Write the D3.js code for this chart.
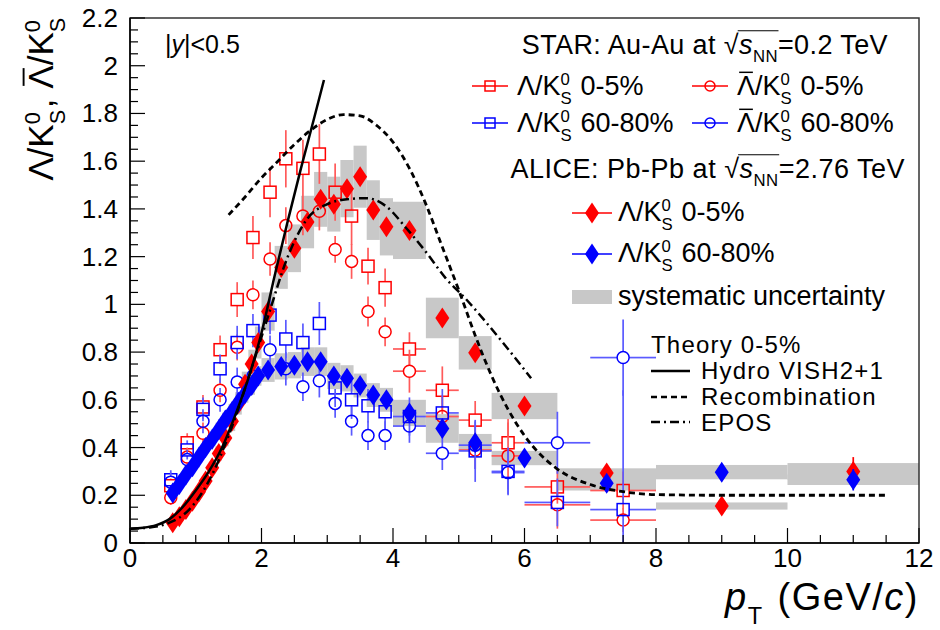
<!DOCTYPE html>
<html><head><meta charset="utf-8">
<script src="https://cdn.jsdelivr.net/npm/d3@7"></script>
<style>body{margin:0;background:#fff;} svg{display:block;} text{font-family:"Liberation Sans",Arial,Helvetica,sans-serif;fill:#000;white-space:pre;}</style>
</head><body><svg id="c" width="940" height="630" xml:space="preserve"></svg>
<script>
// ---------------- DATA ----------------
// ALICE Pb-Pb 2.76 TeV
const aliceX = [0.65,0.75,0.85,0.95,1.05,1.15,1.25,1.35,1.45,1.55,1.65,1.75,1.85,1.95,2.1,2.3,2.5,2.7,2.9,3.1,3.3,3.5,3.7,3.9,4.25,4.75,5.25,6.0,7.25,9.0,11.0];
const aliceHalfW = [0.05,0.05,0.05,0.05,0.05,0.05,0.05,0.05,0.05,0.05,0.05,0.05,0.05,0.05,0.1,0.1,0.1,0.1,0.1,0.1,0.1,0.1,0.1,0.1,0.25,0.25,0.25,0.5,0.75,1,1];
const alice0_5 = [0.085,0.11,0.14,0.175,0.215,0.26,0.315,0.375,0.44,0.51,0.585,0.665,0.75,0.84,0.97,1.155,1.235,1.345,1.44,1.42,1.485,1.535,1.395,1.325,1.31,0.943,0.797,0.574,0.293,0.155,0.30];
const alice0_5Syst = [0.008,0.009,0.011,0.014,0.017,0.021,0.025,0.03,0.035,0.041,0.047,0.053,0.06,0.067,0.08,0.09,0.1,0.11,0.115,0.115,0.12,0.13,0.125,0.12,0.12,0.085,0.07,0.055,0.02,0.015,0.035];
const alice0_5Stat = [0.002,0.002,0.002,0.002,0.002,0.003,0.003,0.003,0.003,0.004,0.004,0.004,0.005,0.005,0.006,0.007,0.008,0.009,0.01,0.011,0.012,0.013,0.014,0.015,0.012,0.015,0.018,0.02,0.025,0.02,0.06];
const alice60_80 = [0.21,0.245,0.285,0.32,0.36,0.40,0.435,0.475,0.515,0.55,0.59,0.625,0.66,0.70,0.725,0.74,0.745,0.76,0.76,0.70,0.69,0.66,0.62,0.60,0.545,0.48,0.42,0.356,0.25,0.297,0.265];
const alice60_80Syst = [0.015,0.017,0.019,0.021,0.023,0.025,0.027,0.029,0.031,0.033,0.035,0.037,0.039,0.041,0.05,0.055,0.055,0.06,0.06,0.055,0.055,0.05,0.05,0.05,0.055,0.06,0.037,0.03,0.03,0.03,0.022];
const alice60_80Stat = [0.004,0.004,0.004,0.005,0.005,0.005,0.006,0.006,0.006,0.007,0.007,0.008,0.008,0.009,0.01,0.01,0.011,0.012,0.013,0.014,0.015,0.016,0.017,0.018,0.02,0.022,0.025,0.03,0.03,0.025,0.045];

// STAR Au-Au 0.2 TeV
const starX = [0.62,0.87,1.11,1.37,1.63,1.87,2.13,2.37,2.63,2.88,3.12,3.37,3.62,3.88,4.25,4.75,5.25,5.75,6.5,7.5];
const starXErr = [0,0,0,0,0,0,0,0,0,0,0,0,0,0,0.25,0.25,0.25,0.25,0.5,0.5];
const starLam0_5 = [0.24,0.42,0.57,0.81,1.02,1.28,1.47,1.61,1.57,1.63,1.47,1.37,1.16,1.07,0.813,0.64,0.515,0.42,0.235,0.22];
const starLam0_5Err = [0.03,0.04,0.05,0.06,0.073,0.09,0.105,0.12,0.12,0.125,0.12,0.12,0.077,0.08,0.07,0.1,0.08,0.1,0.07,0.08];
const starALam0_5 = [0.19,0.36,0.46,0.64,0.82,1.04,1.19,1.33,1.37,1.39,1.23,1.18,0.97,0.885,0.72,0.53,0.39,0.365,0.16,0.096];
const starALam0_5Err = [0.03,0.04,0.045,0.05,0.055,0.06,0.07,0.077,0.08,0.08,0.056,0.073,0.063,0.06,0.09,0.09,0.08,0.14,0.1,0.05];
const starLam60_80 = [0.265,0.39,0.56,0.73,0.84,0.89,0.955,0.855,0.84,0.92,0.65,0.60,0.575,0.55,0.53,0.545,0.386,0.30,0.17,0.14];
const starLam60_80Err = [0.04,0.04,0.05,0.06,0.07,0.07,0.08,0.08,0.08,0.09,0.08,0.08,0.07,0.07,0.08,0.1,0.13,0.1,0.1,0.5];
const starALam60_80 = [0.255,0.35,0.51,0.60,0.675,0.70,0.81,0.73,0.655,0.68,0.585,0.51,0.45,0.45,0.49,0.376,0.41,0.295,0.42,0.777];
const starALam60_80Err = [0.04,0.04,0.05,0.05,0.06,0.06,0.06,0.07,0.06,0.07,0.06,0.06,0.06,0.06,0.07,0.07,0.1,0.09,0.13,0.16];

// Theory 0-5%
const hydroX = [0,0.2,0.4,0.6,0.8,1.0,1.2,1.4,1.6,1.8,2.0,2.2,2.4,2.6,2.8,2.95];
const hydroY = [0.06,0.064,0.075,0.1,0.15,0.22,0.3,0.4,0.535,0.69,0.88,1.12,1.35,1.57,1.78,1.94];
const recombX = [1.5,1.75,2.0,2.25,2.5,2.75,3.0,3.25,3.5,3.75,4.0,4.25,4.5,4.75,5.0,5.25,5.5,5.75,6.0,6.5,7.0,7.5,8.0,9.0,10.0,11.5];
const recombY = [1.375,1.45,1.53,1.6,1.67,1.73,1.775,1.795,1.79,1.75,1.68,1.57,1.42,1.24,1.06,0.87,0.7,0.56,0.45,0.31,0.245,0.215,0.203,0.2,0.2,0.2];
const eposX = [0,0.3,0.6,0.9,1.2,1.5,1.8,2.1,2.4,2.7,3.0,3.3,3.6,3.9,4.2,4.5,4.8,5.1,5.4,5.7,6.1];
const eposY = [0.06,0.065,0.085,0.14,0.26,0.45,0.69,0.95,1.2,1.36,1.42,1.44,1.445,1.41,1.32,1.22,1.11,1.025,0.93,0.83,0.69];

const yTicks = [0,0.2,0.4,0.6,0.8,1,1.2,1.4,1.6,1.8,2,2.2];
const xTicks = [0,2,4,6,8,10,12];

// ---------------- CHART ----------------
const svg = d3.select('#c');
const L=130, R=919, T=18, B=543;
const x = d3.scaleLinear().domain([0,12]).range([L,R]);
const y = d3.scaleLinear().domain([0,2.2]).range([B,T]);

const RED='#ff0000', REDL='#ff5a5a', BLUE='#0000ff', BLUEL='#5a5aff', GRAY='#c8c8c8';

svg.append('clipPath').attr('id','clip').append('rect').attr('x',L).attr('y',T).attr('width',R-L).attr('height',B-T);
const plot = svg.append('g').attr('clip-path','url(#clip)');

// rich text helper
function rich(parent, px, py, parts, fs, anchor, ls){
  const g = parent.append('g');
  let cx = 0, ovS=null, ovE=null;
  parts.forEach(p=>{
    if(p.gap){ cx += p.gap; return; }
    if(p.stack){
      const a = g.append('text').attr('x',cx).attr('y',-0.38*fs).attr('font-size',fs*0.62).text(p.stack[0]);
      const b = g.append('text').attr('x',cx).attr('y',0.34*fs).attr('font-size',fs*0.62).text(p.stack[1]);
      cx += Math.max(a.node().getComputedTextLength(), b.node().getComputedTextLength()) + fs*0.05;
    } else {
      const small = p.sub||p.sup;
      const size = small ? fs*0.62 : fs;
      const dy = p.sub ? (p.low||0.3)*fs : (p.sup ? -0.38*fs : 0);
      const t = g.append('text').attr('x',cx).attr('y',dy).attr('font-size',size)
        .attr('letter-spacing', ls ? ls+'px' : null)
        .attr('font-style',p.it?'italic':null).text(p.t);
      const w = t.node().getComputedTextLength();
      if(p.bar){
        g.append('line').attr('x1',cx+w*0.12).attr('x2',cx+w*0.88).attr('y1',-0.84*fs).attr('y2',-0.84*fs)
          .attr('stroke','#000').attr('stroke-width',fs*0.055);
      }
      if(p.over){ if(ovS===null) ovS=cx; ovE=cx+w; }
      cx += w;
    }
  });
  if(ovS!==null){
    g.append('line').attr('x1',ovS-fs*0.05).attr('x2',ovE+fs*0.02).attr('y1',-0.86*fs).attr('y2',-0.86*fs)
      .attr('stroke','#000').attr('stroke-width',fs*0.04);
  }
  const dx = anchor==='end' ? -cx : (anchor==='middle' ? -cx/2 : 0);
  g.attr('transform',`translate(${px+dx},${py})`);
  return g;
}

// systematic boxes
function sysBoxes(xs, hw, ys, ss){
  plot.append('g').selectAll('rect').data(xs.map((d,i)=>({x:d,w:hw[i],v:ys[i],s:ss[i]}))).join('rect')
    .attr('x',d=>x(d.x-d.w)).attr('width',d=>x(d.x+d.w)-x(d.x-d.w))
    .attr('y',d=>y(d.v+d.s)).attr('height',d=>y(d.v-d.s)-y(d.v+d.s))
    .attr('fill',GRAY);
}
sysBoxes(aliceX, aliceHalfW, alice60_80, alice60_80Syst);
sysBoxes(aliceX, aliceHalfW, alice0_5, alice0_5Syst);

// STAR points with error bars
function starSeries(vals, errs, color, lcolor, shape){
  const g = plot.append('g');
  const ms = 6;
  vals.forEach((v,i)=>{
    const cx = x(starX[i]), cy = y(v);
    const top = y(v+errs[i]), bot = y(v-errs[i]);
    if(cy-ms>top) g.append('line').attr('x1',cx).attr('x2',cx).attr('y1',top).attr('y2',cy-ms).attr('stroke',lcolor).attr('stroke-width',1.7);
    if(bot>cy+ms) g.append('line').attr('x1',cx).attr('x2',cx).attr('y1',cy+ms).attr('y2',bot).attr('stroke',lcolor).attr('stroke-width',1.7);
    const xe = starXErr[i];
    if(xe>0){
      const xl = x(starX[i]-xe), xr = x(starX[i]+xe);
      g.append('line').attr('x1',xl).attr('x2',cx-ms).attr('y1',cy).attr('y2',cy).attr('stroke',lcolor).attr('stroke-width',1.7);
      g.append('line').attr('x1',cx+ms).attr('x2',xr).attr('y1',cy).attr('y2',cy).attr('stroke',lcolor).attr('stroke-width',1.7);
    }
    if(shape==='sq') g.append('rect').attr('x',cx-ms).attr('y',cy-ms).attr('width',2*ms).attr('height',2*ms)
      .attr('fill','none').attr('stroke',color).attr('stroke-width',1.5);
    else g.append('circle').attr('cx',cx).attr('cy',cy).attr('r',ms).attr('fill','none').attr('stroke',color).attr('stroke-width',1.5);
  });
}
starSeries(starLam0_5, starLam0_5Err, RED, REDL, 'sq');
starSeries(starALam0_5, starALam0_5Err, RED, REDL, 'ci');
starSeries(starLam60_80, starLam60_80Err, BLUE, BLUEL, 'sq');
starSeries(starALam60_80, starALam60_80Err, BLUE, BLUEL, 'ci');

// ALICE diamonds
const dia = (hw,hh)=>`M0,${-hh}L${hw},0L0,${hh}L${-hw},0Z`;
function aliceSeries(vals, stat, color){
  const g = plot.append('g');
  vals.forEach((v,i)=>{
    const cx = x(aliceX[i]), cy = y(v);
    const top=y(v+stat[i]), bot=y(v-stat[i]);
    if(cy-top>10) g.append('line').attr('x1',cx).attr('x2',cx).attr('y1',top).attr('y2',bot).attr('stroke',color).attr('stroke-width',1.7);
    g.append('path').attr('d',dia(7,10.5)).attr('transform',`translate(${cx},${cy})`).attr('fill',color);
  });
}
aliceSeries(alice0_5, alice0_5Stat, RED);
aliceSeries(alice60_80, alice60_80Stat, BLUE);

// theory curves
const line = d3.line().x(d=>x(d[0])).y(d=>y(d[1])).curve(d3.curveMonotoneX);
plot.append('path').datum(eposX.map((d,i)=>[d,eposY[i]])).attr('d',line)
  .attr('fill','none').attr('stroke','#000').attr('stroke-width',2.5).attr('stroke-dasharray','9,4,2,4');
plot.append('path').datum(recombX.map((d,i)=>[d,recombY[i]])).attr('d',line)
  .attr('fill','none').attr('stroke','#000').attr('stroke-width',2.8).attr('stroke-dasharray','6,4');
plot.append('path').datum(hydroX.map((d,i)=>[d,hydroY[i]])).attr('d',line)
  .attr('fill','none').attr('stroke','#000').attr('stroke-width',2.5);

// frame & axes
svg.append('rect').attr('x',L).attr('y',T).attr('width',R-L).attr('height',B-T)
  .attr('fill','none').attr('stroke','#333').attr('stroke-width',1.5);
const ax = svg.append('g');
d3.range(0,2.2001,0.05).forEach(v=>{
  const major = Math.abs(v/0.2-Math.round(v/0.2))<1e-6;
  ax.append('line').attr('x1',L).attr('x2',L+(major?15:8)).attr('y1',y(v)).attr('y2',y(v)).attr('stroke','#000').attr('stroke-width',1.2);
});
d3.range(0,12.001,0.5).forEach(v=>{
  const major = Math.abs(v/2-Math.round(v/2))<1e-6;
  ax.append('line').attr('y1',B).attr('y2',B-(major?15:8)).attr('x1',x(v)).attr('x2',x(v)).attr('stroke','#000').attr('stroke-width',1.2);
});
ax.append('line').attr('x1',L).attr('x2',L).attr('y1',T).attr('y2',B).attr('stroke','#000').attr('stroke-width',1.5);
ax.append('line').attr('x1',L).attr('x2',R).attr('y1',B).attr('y2',B).attr('stroke','#000').attr('stroke-width',1.5);
ax.selectAll('.yl').data(yTicks).join('text').attr('x',L-12).attr('y',d=>y(d)+9)
  .attr('text-anchor','end').attr('font-size',26).text(d=>d3.format('~g')(d));
ax.selectAll('.xl').data(xTicks).join('text').attr('x',d=>x(d)).attr('y',B+24)
  .attr('text-anchor','middle').attr('font-size',26).text(d=>d);

// axis titles
rich(svg, R, 610, [{t:'p',it:true},{t:'T',sub:true,low:0.36},{gap:14},{t:'(GeV/'},{t:'c',it:true},{t:')'}], 38, 'end', 1.5);
const yt = svg.append('g').attr('transform','translate(53,16) rotate(-90)');
rich(yt, 0, 0, [{t:'Λ/K'},{stack:['0','S']},{t:', '},{t:'Λ',bar:true},{t:'/K'},{stack:['0','S']}], 35, 'end');

// ---------------- LEGEND ----------------
const FS = 27;
const lg = svg.append('g');
rich(lg, 165, 53, [{t:'|'},{t:'y',it:true},{t:'|<0.5'}], 25);
rich(lg, 888, 54, [{t:'STAR: Au-Au at '},{t:'√'},{t:'s',it:true,over:true},{t:'NN',sub:true,over:true},{t:'=0.2 TeV'}], FS, 'end', 0.4);

function legMarker(cx, cy, color, shape){
  lg.append('line').attr('x1',cx-18).attr('x2',cx+18).attr('y1',cy).attr('y2',cy).attr('stroke',color).attr('stroke-width',1.5);
  if(shape==='sq') lg.append('rect').attr('x',cx-5).attr('y',cy-5).attr('width',10).attr('height',10).attr('fill','none').attr('stroke',color).attr('stroke-width',1.5);
  else lg.append('circle').attr('cx',cx).attr('cy',cy).attr('r',5).attr('fill','none').attr('stroke',color).attr('stroke-width',1.5);
}
legMarker(490, 86, RED, 'sq');
rich(lg, 517, 95, [{t:'Λ/K'},{stack:['0','S']},{t:' 0-5%'}], FS);
legMarker(710, 86, RED, 'ci');
rich(lg, 737, 95, [{t:'Λ',bar:true},{t:'/K'},{stack:['0','S']},{t:' 0-5%'}], FS);
legMarker(490, 123, BLUE, 'sq');
rich(lg, 517, 132, [{t:'Λ/K'},{stack:['0','S']},{t:' 60-80%'}], FS);
legMarker(710, 123, BLUE, 'ci');
rich(lg, 737, 132, [{t:'Λ',bar:true},{t:'/K'},{stack:['0','S']},{t:' 60-80%'}], FS);

rich(lg, 905, 178, [{t:'ALICE: Pb-Pb at '},{t:'√'},{t:'s',it:true,over:true},{t:'NN',sub:true,over:true},{t:'=2.76 TeV'}], FS, 'end', 0.5);
lg.append('line').attr('x1',572).attr('x2',612).attr('y1',213).attr('y2',213).attr('stroke',RED).attr('stroke-width',1.5);
lg.append('path').attr('d',dia(7,10.5)).attr('transform','translate(592,213)').attr('fill',RED);
rich(lg, 618, 221, [{t:'Λ/K'},{stack:['0','S']},{t:' 0-5%'}], FS);
lg.append('line').attr('x1',572).attr('x2',612).attr('y1',254).attr('y2',254).attr('stroke',BLUE).attr('stroke-width',1.5);
lg.append('path').attr('d',dia(7,10.5)).attr('transform','translate(592,254)').attr('fill',BLUE);
rich(lg, 618, 262, [{t:'Λ/K'},{stack:['0','S']},{t:' 60-80%'}], FS);
lg.append('rect').attr('x',572).attr('y',290).attr('width',40).attr('height',14).attr('fill',GRAY);
rich(lg, 618, 305, [{t:'systematic uncertainty'}], FS);

const TF = 24;
rich(lg, 651, 353, [{t:'Theory 0-5%'}], TF, null, 1.2);
lg.append('line').attr('x1',651).attr('x2',690).attr('y1',371).attr('y2',371).attr('stroke','#000').attr('stroke-width',2.5);
rich(lg, 701, 379, [{t:'Hydro VISH2+1'}], TF, null, 1.2);
lg.append('line').attr('x1',651).attr('x2',690).attr('y1',397).attr('y2',397).attr('stroke','#000').attr('stroke-width',2.5).attr('stroke-dasharray','6,4');
rich(lg, 701, 405, [{t:'Recombination'}], TF, null, 1.2);
lg.append('line').attr('x1',651).attr('x2',690).attr('y1',422).attr('y2',422).attr('stroke','#000').attr('stroke-width',2.5).attr('stroke-dasharray','9,4,2,4');
rich(lg, 701, 431, [{t:'EPOS'}], TF, null, 1.2);
</script></body></html>
